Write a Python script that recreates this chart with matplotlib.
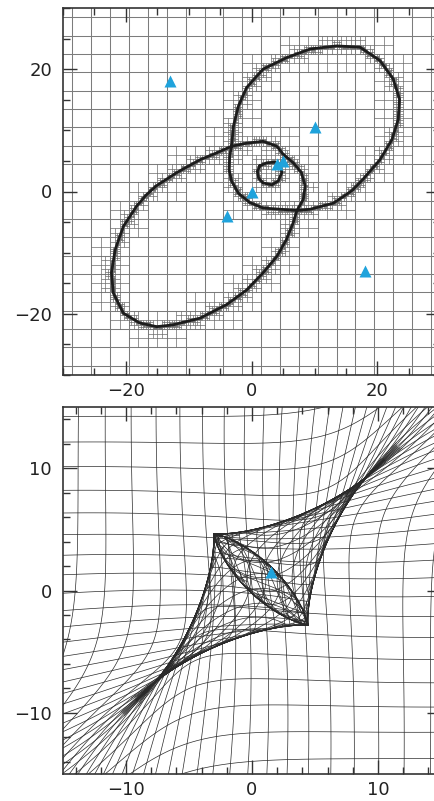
import numpy as np
import matplotlib
matplotlib.use("Agg")
import matplotlib.pyplot as plt
from matplotlib.collections import LineCollection
from matplotlib.ticker import MultipleLocator

# lens galaxies in the image plane, source in the source plane
gal_x = [0, -4, 4, 5, 10, -13, 18]
gal_y = [0, -4, 4.5, 5, 10.5, 18, -13]
src_x = [1.5]
src_y = [1.5]

# critical curves (closed loops)
crit_a_x = [-3.2, -2.9, -2.1, -0.8, 1.8, 5.6, 9.3, 13.5, 17.2, 20.4, 22.5, 23.5, 23.3, 22.3,
            20.4, 17.7, 16.0, 14.6, 13.0, 9.3, 7.2, 4.5, 1.8, -0.3, -2.1, -3.2, -3.6, -3.5]
crit_a_y = [7.4, 10.7, 14.0, 17.0, 20.0, 21.9, 23.3, 23.8, 23.6, 21.4, 18.4, 15.1, 11.8, 8.5,
            5.2, 2.0, 0.2, -0.8, -1.9, -2.9, -3.1, -2.9, -2.7, -1.8, -0.3, 1.7, 3.6, 5.8]
crit_b_x = [-3.2, -5.6, -8.2, -11.9, -15.2, -16.8, -18.3, -20.4, -21.7, -22.3, -22.0, -20.4,
            -17.8, -15.1, -12.5, -8.2, -4.0, -0.8, 1.8, 4.0, 5.5, 6.6, 7.2, 8.2, 8.5, 7.9,
            6.6, 5.0, 4.0, 1.8, -0.8]
crit_b_y = [7.4, 6.3, 5.2, 3.1, 0.9, -0.6, -2.4, -5.7, -9.5, -13.3, -16.6, -19.9,
            -21.5, -22.1, -21.8, -20.7, -18.5, -16.1, -13.3, -10.6, -7.9, -5.1, -3.1, -1.3, 0.9, 3.1,
            4.7, 6.1, 7.4, 8.2, 7.9]
crit_c_x = [1.3, 2.4, 3.7, 4.5, 4.8, 4.2, 3.2, 1.8, 1.1, 0.9]
crit_c_y = [4.2, 4.7, 4.8, 4.2, 3.1, 1.7, 1.1, 1.4, 2.2, 3.3]

# source-plane lens model: cored isothermal halo + shear along the diagonal
shear = 0.2
core = 11.9
b_ein = 35.7
cen_x, cen_y = 0.7, 0.9

cell0 = 3.0          # coarse tiling cell
blue = '#1fa3dc'


def lens_map(x, y):
    dx, dy = x - cen_x, y - cen_y
    f = b_ein / (np.sqrt(dx * dx + dy * dy + core ** 2) + core)
    return cen_x + dx - f * dx + shear * dy, cen_y + dy - f * dy + shear * dx


def lens_det(x, y):
    dx, dy = x - cen_x, y - cen_y
    sq = np.sqrt(dx * dx + dy * dy + core ** 2)
    f = b_ein / (sq + core)
    g = b_ein / ((sq + core) ** 2 * sq)
    axx = f - g * dx * dx
    ayy = f - g * dy * dy
    axy = -g * dx * dy
    return (1 - axx) * (1 - ayy) - (shear - axy) ** 2


def closed(xs, ys):
    return np.r_[xs, xs[0]], np.r_[ys, ys[0]]


def dense(xs, ys, n=15):
    xs, ys = closed(xs, ys)
    px, py = [], []
    for i in range(len(xs) - 1):
        t = np.linspace(0, 1, n, endpoint=False)
        px.append(xs[i] + (xs[i + 1] - xs[i]) * t)
        py.append(ys[i] + (ys[i + 1] - ys[i]) * t)
    return np.concatenate(px), np.concatenate(py)


def refine(x0, y0, h, depth, test, out):
    if depth == 0 or not test(x0, y0, h):
        return
    out.append((x0, y0, h))
    h2 = h / 2
    for ox in (0, h2):
        for oy in (0, h2):
            refine(x0 + ox, y0 + oy, h2, depth - 1, test, out)


fig = plt.figure(figsize=(4.35, 8.01), dpi=100)
ax1 = fig.add_axes([63 / 435, 426 / 801, 377.4 / 435, 367 / 801])
ax2 = fig.add_axes([63 / 435, 27 / 801, 378 / 435, 367 / 801])

# ---------------- image plane ----------------
cx, cy = [], []
for xs, ys in [(crit_a_x, crit_a_y), (crit_b_x, crit_b_y), (crit_c_x, crit_c_y)]:
    a, b = dense(xs, ys)
    cx.append(a)
    cy.append(b)
cx = np.concatenate(cx)
cy = np.concatenate(cy)


def near_curve(x0, y0, h):
    d = np.min(np.hypot(cx - (x0 + h / 2), cy - (y0 + h / 2)))
    return d < (0.95 if h > 2 else 0.85) * h


edges = np.arange(-31.5, 31.6, cell0)
segs = []
for e in edges:
    segs.append([(e, -31.5), (e, 31.5)])
    segs.append([(-31.5, e), (31.5, e)])
ax1.add_collection(LineCollection(segs, colors='#7c7c7c', linewidths=0.75, zorder=1))

cells = []
for x0 in edges[:-1]:
    for y0 in edges[:-1]:
        refine(x0, y0, cell0, 4, near_curve, cells)
fine = []
for x0, y0, h in cells:
    fine.append([(x0 + h / 2, y0), (x0 + h / 2, y0 + h)])
    fine.append([(x0, y0 + h / 2), (x0 + h, y0 + h / 2)])
ax1.add_collection(LineCollection(fine, colors='#6a6a6a', linewidths=0.5, zorder=2))

for xs, ys in [(crit_a_x, crit_a_y), (crit_b_x, crit_b_y), (crit_c_x, crit_c_y)]:
    a, b = closed(xs, ys)
    ax1.plot(a, b, color='#1c1c1c', lw=2.0, solid_joinstyle='round', zorder=3)

ax1.plot(gal_x, gal_y, '^', color=blue, ms=8.5, mec='none', zorder=4)
ax1.set_xlim(-30, 30)
ax1.set_ylim(-30, 30)
ax1.xaxis.set_major_locator(MultipleLocator(20))
ax1.xaxis.set_minor_locator(MultipleLocator(5))
ax1.yaxis.set_major_locator(MultipleLocator(20))
ax1.yaxis.set_minor_locator(MultipleLocator(5))

# ---------------- source plane ----------------
def near_crit(x0, y0, h):
    g = np.linspace(-0.25 * h, 1.25 * h, 6)
    gx, gy = np.meshgrid(x0 + g, y0 + g)
    d = lens_det(gx, gy)
    return d.min() < 0 < d.max()


span = 75
lines2 = []
t = np.arange(-span, span + 0.01, 0.2)
for e in np.arange(-span + 1.5, span, cell0):
    wx, wy = lens_map(np.full_like(t, e), t)
    lines2.append(np.column_stack([wx, wy]))
    wx, wy = lens_map(t, np.full_like(t, e))
    lines2.append(np.column_stack([wx, wy]))

cells2 = []
for x0 in np.arange(-span + 1.5, span - 1.5, cell0):
    for y0 in np.arange(-span + 1.5, span - 1.5, cell0):
        refine(x0, y0, cell0, 3, near_crit, cells2)
for x0, y0, h in cells2:
    s = np.linspace(0, h, 12)
    wx, wy = lens_map(np.full_like(s, x0 + h / 2), y0 + s)
    lines2.append(np.column_stack([wx, wy]))
    wx, wy = lens_map(x0 + s, np.full_like(s, y0 + h / 2))
    lines2.append(np.column_stack([wx, wy]))

ax2.add_collection(LineCollection(lines2, colors='#2a2a2a', linewidths=0.5, zorder=1))
ax2.plot(src_x, src_y, '^', color=blue, ms=8.5, mec='none', zorder=4)
ax2.set_xlim(-15, 15)
ax2.set_ylim(-15, 15)
ax2.xaxis.set_major_locator(MultipleLocator(10))
ax2.xaxis.set_minor_locator(MultipleLocator(2))
ax2.yaxis.set_major_locator(MultipleLocator(10))
ax2.yaxis.set_minor_locator(MultipleLocator(2))

for ax in (ax1, ax2):
    ax.tick_params(which='both', direction='in', top=True, right=True, width=1.0,
                   color='#333333', labelsize=13, labelcolor='#222222')
    ax.tick_params(axis='y', pad=8)
    ax.tick_params(axis='x', pad=5)
    ax.tick_params(which='major', length=10)
    ax.tick_params(which='minor', length=5)
    for sp in ax.spines.values():
        sp.set_linewidth(1.2)
        sp.set_color('#333333')

fig.savefig('out.png', dpi=100)
